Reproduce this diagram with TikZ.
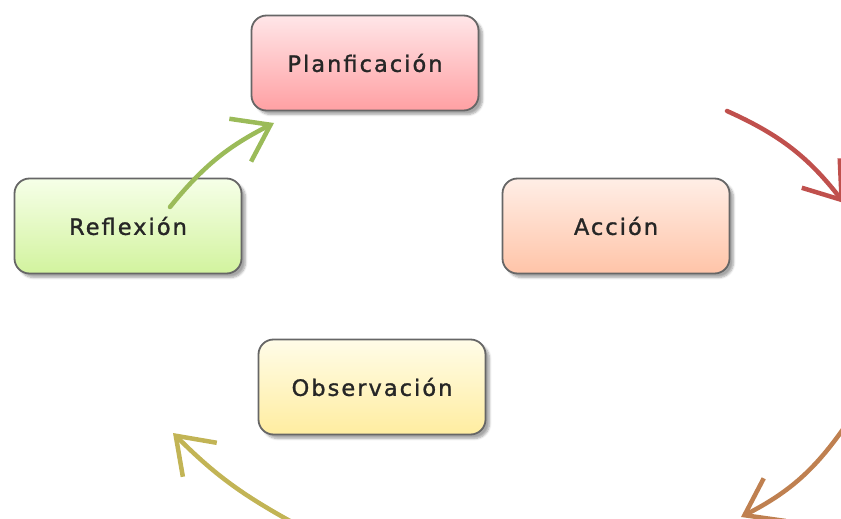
\documentclass[tikz,border=0pt]{standalone}
\usepackage{fontspec}
\setmainfont{DejaVu Sans}[LetterSpace=9,FakeBold=1.2]
\usetikzlibrary{arrows.meta,shadows.blur}
\definecolor{cred}{HTML}{C0504D}
\definecolor{corange}{HTML}{BF8050}
\definecolor{colive}{HTML}{C2B455}
\definecolor{cgreen}{HTML}{9BBB59}
\tikzset{
  box/.style={draw=black!60, line width=1.8pt, rounded corners=15pt,
    minimum width=227pt, minimum height=95pt, inner sep=0pt,
    font=\fontsize{22.5}{24}\selectfont, text=black!85,
    blur shadow={shadow xshift=4pt, shadow yshift=-4pt, shadow blur steps=6, shadow opacity=35}},
  cyc/.style={line width=4.5pt, line cap=round,
    -{Straight Barb[length=34pt,width=48pt,line width=4.5pt]}},
}
\begin{document}
\begin{tikzpicture}[x=1pt,y=-1pt]
\useasboundingbox (0,0) rectangle (841,519);
\clip (0,0) rectangle (841,519);
\node[box, top color={rgb,255:red,255;green,230;blue,232}, bottom color={rgb,255:red,255;green,160;blue,163}] (plan) at (365,63) {Planficación};
\node[box, top color={rgb,255:red,246;green,255;blue,232}, bottom color={rgb,255:red,210;green,243;blue,158}] (refl) at (128,226) {Reflexión};
\node[box, top color={rgb,255:red,255;green,238;blue,230}, bottom color={rgb,255:red,255;green,196;blue,168}] (acc) at (616,226) {Acción};
\node[box, top color={rgb,255:red,255;green,252;blue,232}, bottom color={rgb,255:red,255;green,237;blue,160}] (obs) at (372,387) {Observación};
\coordinate (r1) at (727,111);
\coordinate (r2) at (844,203);
\coordinate (o1) at (846,425);
\coordinate (o2) at (741,517);
\coordinate (y1) at (290,521);
\coordinate (y2) at (173,433);
\coordinate (g1) at (170,207);
\coordinate (g2) at (274,123);
\draw[cyc, cred] (r1) to[bend left=14] (r2);
\draw[cyc, corange] (o1) to[bend left=14] (o2);
\draw[cyc, colive] (y1) to[bend left=8] (y2);
\draw[cyc, cgreen] (g1) to[bend left=12] (g2);
\end{tikzpicture}
\end{document}
